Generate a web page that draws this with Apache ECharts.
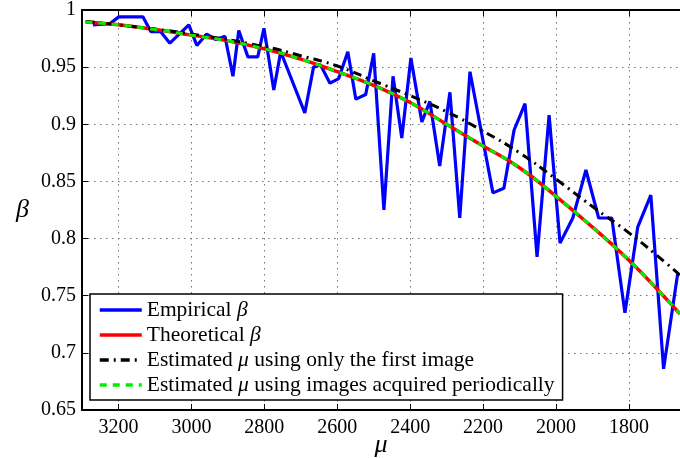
<!DOCTYPE html>
<html>
<head>
<meta charset="utf-8">
<script src="https://cdn.jsdelivr.net/npm/echarts@6/dist/echarts.min.js"></script>
<style>html,body{margin:0;padding:0;background:#fff;}#c{width:680px;height:458px;}</style>
</head>
<body>
<div id="c"></div>
<script>
// Empirical beta (mu, beta)
const empMu = [3270,3224,3199,3133,3111,3084,3059,3007,2985,2958,2933,2908,2886,2870,2845,2818,2801,2774,2755,2689,2665,2646,2620,2596,2571,2549,2522,2500,2472,2447,2423,2398,2368,2346,2319,2291,2264,2236,2173,2143,2115,2085,2052,2019,1989,1954,1918,1883,1847,1811,1776,1740,1705,1666];
const empBeta = [0.987,0.988,0.994,0.994,0.981,0.981,0.971,0.987,0.969,0.979,0.974,0.977,0.942,0.982,0.959,0.959,0.984,0.930,0.9635,0.910,0.950,0.952,0.936,0.940,0.9635,0.922,0.926,0.962,0.825,0.942,0.888,0.958,0.902,0.920,0.8635,0.928,0.818,0.946,0.840,0.844,0.895,0.918,0.784,0.908,0.796,0.818,0.860,0.818,0.818,0.735,0.810,0.838,0.686,0.770];
// Theoretical beta
const theoMu = [3290,3200,3100,3000,2900,2800,2700,2600,2500,2400,2300,2200,2100,2000,1900,1800,1700,1660];
const theoBeta = [0.9895,0.987,0.983,0.978,0.973,0.966,0.957,0.946,0.934,0.919,0.900,0.881,0.862,0.837,0.810,0.781,0.748,0.734];
// Estimated using only first image
const firstMu = [3290,3200,3000,2800,2700,2600,2500,2400,2300,2200,2100,2000,1900,1800,1700,1660];
const firstBeta = [0.990,0.987,0.979,0.968,0.960,0.951,0.938,0.925,0.911,0.894,0.875,0.852,0.828,0.805,0.779,0.768];
// Estimated using images acquired periodically
const perMu = [3290,3200,3100,3000,2900,2800,2700,2600,2500,2400,2300,2200,2100,2000,1900,1800,1700,1660];
const perBeta = [0.9895,0.987,0.983,0.978,0.973,0.966,0.957,0.946,0.934,0.919,0.900,0.881,0.862,0.837,0.810,0.781,0.748,0.734];
// Ticks
const xTicks = [1800,2000,2200,2400,2600,2800,3000,3200];
const yTicks = [0.65,0.7,0.75,0.8,0.85,0.9,0.95,1];
const names = ['Empirical β','Theoretical β','Estimated μ using only the first image','Estimated μ using images acquired periodically'];
const legendRich = {
  'Empirical β': 'Empirical {i|β}',
  'Theoretical β': 'Theoretical {i|β}',
  'Estimated μ using only the first image': 'Estimated {i|μ} using only the first image',
  'Estimated μ using images acquired periodically': 'Estimated {i|μ} using images acquired periodically'
};
const zip = (a,b) => a.map((v,i)=>[v,b[i]]);
const serif = 'Liberation Serif';
const chart = echarts.init(document.getElementById('c'));
chart.setOption({
  animation: false,
  backgroundColor: '#fff',
  grid: {left: 82, right: 0, top: 10, bottom: 48, outerBoundsMode: 'none', containLabel: false},
  legend: {
    orient: 'vertical', left: 90, top: 294,
    itemWidth: 42, itemHeight: 14, itemGap: 3,
    padding: [5, 8, 4, 8],
    borderColor: '#000', borderWidth: 1.5, backgroundColor: '#fff',
    data: names,
    itemStyle: {opacity: 0},
    lineStyle: {width: 3.5},
    formatter: n => legendRich[n],
    textStyle: {fontFamily: serif, fontSize: 21.5, lineHeight: 21, color: '#000',
      rich: {i: {fontFamily: serif, fontSize: 21.5, lineHeight: 21, fontStyle: 'italic', color: '#000'}}}
  },
  xAxis: [{
    type: 'value', inverse: true, min: 1660, max: 3300,
    name: 'μ', nameLocation: 'middle', nameGap: 22, nameMoveOverlap: false,
    nameTextStyle: {fontFamily: serif, fontSize: 26, fontStyle: 'italic', color: '#000'},
    axisLine: {lineStyle: {color: '#000', width: 2}},
    axisTick: {inside: true, length: 6, customValues: xTicks, lineStyle: {color: '#000', width: 1}},
    axisLabel: {customValues: xTicks, fontFamily: serif, fontSize: 20, color: '#000', margin: 8,
      formatter: v => String(v)},
    splitLine: {show: true, lineStyle: {color: '#777', width: 1, type: [1.5, 4.5]}}
  }, {
    type: 'value', inverse: true, min: 1660, max: 3300, position: 'top',
    axisLine: {lineStyle: {color: '#000', width: 2}},
    axisTick: {inside: true, length: 6, customValues: xTicks, lineStyle: {color: '#000'}},
    axisLabel: {show: false}, splitLine: {show: false}
  }],
  yAxis: {
    type: 'value', min: 0.65, max: 1, interval: 0.05,
    name: 'β', nameLocation: 'middle', nameGap: 53, nameRotate: 0, nameMoveOverlap: false,
    nameTextStyle: {fontFamily: serif, fontSize: 26, fontStyle: 'italic', color: '#000'},
    axisLine: {show: true, lineStyle: {color: '#000', width: 2}},
    axisTick: {show: true, inside: true, length: 6, lineStyle: {color: '#000'}},
    axisLabel: {fontFamily: serif, fontSize: 20, color: '#000', margin: 6,
      formatter: v => String(parseFloat(v.toFixed(2)))},
    splitLine: {show: true, lineStyle: {color: '#777', width: 1, type: [1.5, 4.5]}}
  },
  series: [
    {name: names[0], type: 'line', data: zip(empMu, empBeta), showSymbol: false, symbol: 'none',
     lineStyle: {color: '#0000ff', width: 3.2}, itemStyle: {color: '#0000ff'}},
    {name: names[1], type: 'line', data: zip(theoMu, theoBeta), smooth: true, showSymbol: false, symbol: 'none',
     lineStyle: {color: '#ff0000', width: 3.5}, itemStyle: {color: '#ff0000'}},
    {name: names[2], type: 'line', data: zip(firstMu, firstBeta), smooth: true, showSymbol: false, symbol: 'none',
     lineStyle: {color: '#000', width: 3, type: [9, 5, 2, 5]}, itemStyle: {color: '#000'}},
    {name: names[3], type: 'line', data: zip(perMu, perBeta), smooth: true, showSymbol: false, symbol: 'none',
     lineStyle: {color: '#00ee00', width: 3, type: [7, 6]}, itemStyle: {color: '#00ee00'}}
  ]
});
</script>
</body>
</html>
